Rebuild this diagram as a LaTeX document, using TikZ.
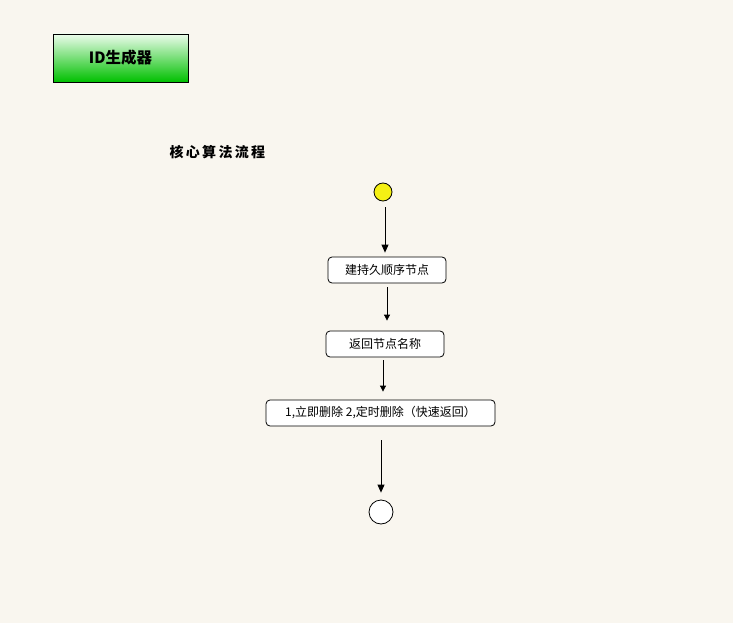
\documentclass[tikz,border=0pt]{standalone}
\usepackage{fontspec}
\newfontfamily\cjk{Noto Sans CJK SC}
\usepackage{tikz}
\usetikzlibrary{arrows.meta, positioning, calc}
\definecolor{bgcream}{RGB}{249, 246, 239}
\definecolor{titlegreen}{RGB}{0, 192, 0}
\definecolor{titlelight}{RGB}{236, 252, 236}
\definecolor{startyellow}{RGB}{245, 240, 20}

\begin{document}
\begin{tikzpicture}[x=1pt, y=-1pt, >=Latex,
    actbox/.style={draw=black, rounded corners=4pt, fill=white, line width=0.8pt,
        minimum height=26pt, font=\cjk\fontsize{12}{14}\selectfont, inner xsep=6pt},
    flow/.style={->, line width=0.8pt, >={Triangle[width=7pt, length=8pt]}},
    flowsmall/.style={->, line width=0.8pt, >={Triangle[width=6pt, length=6pt]}}]
    \fill[bgcream] (0, 0) rectangle (733, 623);
    \useasboundingbox (0, 0) rectangle (733, 623);

    % title box
    \node[draw=black, line width=0.8pt, top color=titlelight, bottom color=titlegreen,
        minimum width=135pt, minimum height=48pt, font=\cjk\bfseries\fontsize{15.5}{17}\selectfont]
        (title) at (120.5, 58) {ID生成器};

    \node[font=\cjk\bfseries\fontsize{14}{16}\selectfont, anchor=west] (heading) at (166, 152)
        {核\,心\,算\,法\,流\,程};

    % flow
    \node[circle, draw=black, fill=startyellow, line width=0.8pt, minimum size=18pt, inner sep=0pt]
        (start) at (383, 192) {};
    \node[actbox, minimum width=118pt] (create) at (387, 270) {建持久顺序节点};
    \node[actbox, minimum width=118pt] (back) at (385, 344) {返回节点名称};
    \node[actbox, minimum width=229pt] (delete) at (380.5, 413) {1,立即删除 2,定时删除（快速返回）};
    \node[circle, draw=black, fill=white, line width=0.8pt, minimum size=24pt, inner sep=0pt]
        (final) at (381, 512) {};

    \coordinate (a1) at ([xshift=2pt, yshift=-6pt]start.south);
    \draw[flow] (a1) -- ([yshift=4pt]a1 |- create.north);
    \coordinate (a2) at ([yshift=-4pt]create.south);
    \draw[flowsmall] (a2) -- ([yshift=10pt]a2 |- back.north);
    \coordinate (a3) at ([xshift=-2pt, yshift=-3pt]back.south);
    \draw[flowsmall] (a3) -- ([yshift=8pt]a3 |- delete.north);
    \coordinate (a4) at ([xshift=0.5pt, yshift=-14pt]delete.south);
    \draw[flow] (a4) -- ([yshift=7pt]a4 |- final.north);
\end{tikzpicture}
\end{document}
